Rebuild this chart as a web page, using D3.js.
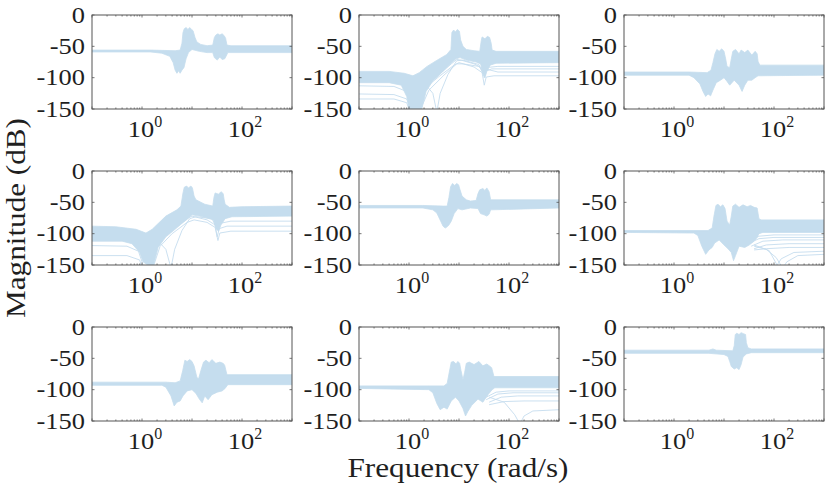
<!DOCTYPE html>
<html>
<head>
<meta charset="utf-8">
<script src="https://cdn.jsdelivr.net/npm/d3@7"></script>
<style>
  html, body { margin: 0; padding: 0; background: #fff; }
  svg { display: block; }
</style>
</head>
<body>
<script>
const WIDTH = 830;
const HEIGHT = 494;
const CURVE = '#c5ddee';
const AXIS = '#555555';
const TEXT = '#1f1f1f';
const FONT = '"Liberation Serif", "DejaVu Serif", serif';
const STRETCH = 1.15; // computer-modern glyphs are wider than Times

// axis values
const xDomain = [0.1, 1000];
const yDomain = [-150, 0];
const xMajorTicks = [0.1, 1, 10, 100, 1000];
const xLabelTicks = [1, 100];
const xLabelExp = ['0', '2'];
const yTicks = [0, -50, -100, -150];

// panel (row 1, col 1) -- [rad/s, dB]
const upper11 = [[0.1,-56],[1.5,-56],[4.6,-57],[5.8,-56],[6.3,-45],[6.6,-28],[7.0,-22],[7.6,-20],[8.3,-23],[9.0,-20],[9.8,-23],[10.5,-25],[11.5,-36],[12.5,-43],[15,-47],[20,-49],[26,-48],[28,-36],[30,-32],[33,-30],[36,-32],[40,-30],[44,-33],[47,-37],[50,-48],[60,-49],[1000,-49]];
const lower11 = [[0.1,-59],[1.5,-59],[2.5,-61],[3.6,-66],[4.2,-76],[4.6,-88],[5.0,-93],[5.4,-89],[5.8,-93],[6.3,-88],[6.9,-84],[7.6,-70],[8.5,-60],[10,-55],[14,-58],[20,-60],[26,-60],[28,-68],[32,-72],[36,-67],[40,-71],[45,-70],[48,-66],[52,-60],[1000,-60]];
const lines11 = [];

// panel (row 1, col 2)
const upper12 = [[0.1,-90],[0.4,-90],[0.8,-93],[1.2,-97],[1.6,-92],[2.3,-82],[3.5,-73],[5.7,-63],[6.9,-55],[7.2,-28],[7.8,-24],[8.5,-27],[9.3,-23],[10.2,-26],[10.8,-40],[12,-50],[14,-55],[20,-57],[26,-58],[28,-40],[29,-35],[33,-38],[37,-34],[41,-36],[44,-45],[46,-56],[55,-58],[1000,-58]];
const lower12 = [[0.1,-108],[0.4,-108],[0.7,-112],[0.9,-130],[1.0,-150],[1.8,-150],[2.2,-122],[3,-105],[4.5,-92],[6.3,-80],[8.7,-70],[10.5,-68],[14,-72],[22,-75],[27,-78],[30,-92],[33,-100],[36,-90],[42,-80],[55,-77],[1000,-76]];
const lines12 = [
  [[0.1,-113],[0.5,-114],[0.9,-122],[1.1,-140],[1.25,-155],[1.45,-140],[2,-115],[4,-95],[7,-78],[9,-71],[11,-72],[20,-78],[28,-84],[32,-100],[34,-90],[45,-86],[100,-86],[1000,-86]],
  [[0.1,-126],[0.5,-127],[0.9,-134],[1.15,-155],[1.4,-145],[2,-118],[4,-98],[8,-80],[10,-76],[20,-83],[29,-92],[32,-112],[35,-99],[50,-97],[1000,-97]],
  [[0.1,-134],[0.5,-134],[0.9,-140],[1.05,-155],[1.6,-155],[2.5,-120],[5,-96],[9,-78],[12,-78],[25,-82],[30,-90],[34,-84],[60,-82],[1000,-82]],
  [[0.1,-100],[1,-102],[2,-108],[3,-125],[3.6,-155],[4.2,-125],[6,-95],[9,-73],[12,-72],[25,-79],[30,-94],[34,-86],[60,-91],[1000,-91]]
];

// panel (row 1, col 3)
const upper13 = [[0.1,-91],[2,-91],[4.6,-92],[5.5,-88],[6.0,-76],[6.6,-62],[7.2,-55],[8,-58],[9,-54],[10,-58],[10.8,-70],[11.5,-82],[13,-84],[14,-70],[15,-58],[17,-55],[20,-62],[22,-56],[26,-60],[30,-56],[36,-64],[42,-58],[46,-62],[48,-74],[52,-80],[1000,-80]];
const lower13 = [[0.1,-96],[2,-96],[2.5,-100],[3.3,-110],[3.8,-122],[4.3,-130],[4.8,-126],[5.4,-129],[6,-120],[7,-108],[8.5,-104],[10,-100],[11.5,-106],[13,-112],[16,-104],[20,-112],[23,-122],[26,-112],[30,-104],[36,-104],[42,-100],[48,-97],[1000,-96]];
const lines13 = [];

// panel (row 2, col 1)
const upper21 = [[0.1,-88],[0.3,-89],[0.76,-93],[1.2,-99],[1.6,-93],[3,-72],[5,-62],[6,-56],[6.6,-35],[7,-26],[7.8,-24],[8.5,-27],[9.5,-24],[10.2,-27],[11,-40],[12,-46],[18,-53],[26,-56],[27.5,-42],[29,-35],[34,-37],[38,-33],[42,-36],[44,-46],[46,-53],[56,-58],[100,-57],[1000,-56]];
const lower21 = [[0.1,-112],[0.4,-112],[0.63,-116],[0.9,-130],[1.05,-145],[1.3,-150],[1.7,-150],[2.1,-122],[3,-105],[4,-97],[6,-85],[8,-77],[10,-70],[14,-72],[20,-75],[27,-78],[30,-92],[34,-96],[38,-86],[46,-76],[63,-73],[1000,-72]];
const lines21 = [
  [[0.1,-119],[0.5,-120],[0.85,-128],[1.05,-150],[1.2,-158],[1.5,-140],[2.2,-112],[4,-95],[8,-76],[10,-72],[20,-78],[29,-86],[32,-105],[35,-92],[50,-88],[1000,-88]],
  [[0.1,-135],[0.5,-135],[0.9,-142],[1.02,-158],[1.6,-158],[2.3,-120],[4,-100],[8,-82],[11,-78],[20,-82],[29,-90],[33,-111],[36,-99],[60,-96],[1000,-96]],
  [[0.1,-100],[1,-103],[2,-110],[3,-125],[3.8,-155],[4.5,-125],[6.3,-95],[9,-76],[12,-73],[25,-76],[30,-88],[34,-84],[60,-80],[1000,-80]]
];

// panel (row 2, col 2)
const upper22 = [[0.1,-55],[1.9,-55],[4.8,-56],[5.8,-56],[6.3,-42],[6.8,-25],[7.4,-20],[8.2,-23],[9,-20],[9.8,-22],[10.5,-30],[11.5,-40],[14,-46],[17,-48],[22,-47],[24,-36],[26,-30],[30,-28],[33,-31],[36,-27],[40,-33],[43,-46],[1000,-46]];
const lower22 = [[0.1,-59],[1.9,-59],[3,-62],[3.6,-67],[4.3,-80],[4.8,-88],[5.3,-91],[5.8,-89],[6.3,-86],[7,-80],[8,-68],[9.5,-60],[11.5,-62],[17,-59],[24,-60],[27,-68],[32,-70],[36,-72],[40,-69],[43,-62],[1000,-59]];
const lines22 = [];

// panel (row 2, col 3)
const upper23 = [[0.1,-95],[2.5,-95],[4.8,-95],[5.8,-91],[6.3,-72],[6.9,-55],[7.6,-53],[8.5,-57],[9.5,-54],[10.5,-60],[11.5,-80],[13,-86],[14,-72],[15,-56],[17,-53],[20,-58],[24,-54],[29,-57],[34,-55],[40,-58],[46,-59],[50,-76],[55,-78],[1000,-78]];
const lower23 = [[0.1,-98],[2.5,-99],[3,-103],[3.6,-120],[4.3,-133],[5,-126],[5.8,-122],[6.5,-115],[8,-110],[10,-118],[12,-124],[14,-130],[15.5,-143],[17,-135],[20,-120],[26,-122],[32,-118],[40,-112],[46,-106],[50,-100],[60,-98],[1000,-98]];
const lines23 = [
  [[30,-112],[50,-104],[100,-102],[1000,-102]],
  [[30,-116],[50,-108],[100,-106],[1000,-106]],
  [[35,-120],[60,-112],[150,-110],[1000,-110]],
  [[40,-124],[70,-118],[200,-116],[1000,-116]],
  [[40,-126],[70,-124],[200,-122],[1000,-122]],
  [[40,-120],[70,-125],[110,-138],[150,-155],[180,-145],[300,-135],[1000,-133]],
  [[40,-118],[80,-127],[115,-150],[140,-140],[250,-130],[1000,-128]]
];

// panel (row 3, col 1)
const upper31 = [[0.1,-88],[3,-88],[4.6,-89],[5.8,-86],[6.5,-70],[7.2,-53],[8,-55],[9,-52],[10,-55],[11,-62],[12.5,-80],[13.5,-83],[15,-70],[17,-56],[19,-53],[22,-57],[25,-52],[30,-58],[36,-56],[42,-58],[45,-61],[50,-76],[1000,-76]];
const lower31 = [[0.1,-93],[2.5,-93],[3,-96],[3.8,-110],[4.4,-126],[5,-120],[5.8,-118],[6.6,-110],[8,-102],[10,-100],[12,-106],[14,-115],[16,-121],[18,-110],[21,-116],[25,-108],[32,-104],[40,-102],[46,-98],[52,-92],[1000,-92]];
const lines31 = [];

// panel (row 3, col 2)
const upper32 = [[0.1,-94],[2.5,-94],[5,-94],[5.8,-90],[6.4,-72],[7,-56],[7.8,-55],[8.7,-59],[9.5,-55],[10.3,-58],[11,-70],[12,-84],[13,-72],[14,-58],[16,-56],[20,-60],[25,-55],[30,-62],[36,-59],[42,-63],[45,-65],[50,-79],[1000,-79]];
const lower32 = [[0.1,-98],[2.5,-100],[3,-105],[3.6,-122],[4.2,-132],[5,-128],[5.8,-131],[7,-118],[8.5,-112],[10,-118],[12,-130],[13.5,-142],[15,-135],[18,-125],[24,-115],[30,-120],[38,-108],[46,-100],[52,-97],[1000,-97]];
const lines32 = [
  [[35,-112],[55,-104],[100,-102],[1000,-102]],
  [[35,-116],[60,-107],[120,-105],[1000,-105]],
  [[40,-120],[70,-112],[150,-110],[1000,-110]],
  [[40,-124],[80,-119],[200,-118],[1000,-118]],
  [[40,-112],[80,-120],[130,-140],[165,-155],[200,-142],[300,-134],[1000,-132]]
];

// panel (row 3, col 3)
const upper33 = [[0.1,-37],[5,-37],[6,-35],[7,-37],[15,-38],[16,-30],[16.8,-12],[18,-10],[20,-12],[22,-9],[25,-11],[27,-12],[28,-25],[30,-33],[35,-35],[1000,-35]];
const lower33 = [[0.1,-42],[5,-42],[10,-44],[12,-47],[13,-55],[14,-63],[16,-67],[18,-65],[20,-68],[22,-60],[24,-48],[28,-43],[35,-41],[1000,-41]];
const lines33 = [];

const panels = [
  [upper11, lower11, lines11], [upper12, lower12, lines12], [upper13, lower13, lines13],
  [upper21, lower21, lines21], [upper22, lower22, lines22], [upper23, lower23, lines23],
  [upper31, lower31, lines31], [upper32, lower32, lines32], [upper33, lower33, lines33]
];

const colX = [92, 359, 624];
const rowY = [15, 171, 327];
const PW = 200;
const PH = 94;

const svg = d3.select('body').append('svg')
  .attr('width', WIDTH)
  .attr('height', HEIGHT)
  .attr('viewBox', `0 0 ${WIDTH} ${HEIGHT}`);

const x = d3.scaleLog().domain(xDomain).range([0, PW]);
const y = d3.scaleLinear().domain(yDomain).range([PH, 0]);
const line = d3.line().x(d => x(d[0])).y(d => y(d[1]));

function widen(sel, factor) {
  const w = sel.node().getComputedTextLength();
  sel.attr('textLength', w * factor).attr('lengthAdjust', 'spacingAndGlyphs');
  return sel;
}

const minorTicks = [];
for (let dec = 0.1; dec < 1000; dec *= 10) {
  for (let m = 2; m <= 9; m++) minorTicks.push(+(dec * m).toPrecision(3));
}

panels.forEach(([upper, lower, extra], i) => {
  const r = Math.floor(i / 3);
  const c = i % 3;
  const g = svg.append('g').attr('transform', `translate(${colX[c]},${rowY[r]})`);

  g.append('clipPath').attr('id', `clip${i}`)
    .append('rect').attr('width', PW).attr('height', PH);

  const plot = g.append('g').attr('clip-path', `url(#clip${i})`);

  extra.forEach(pts => {
    plot.append('path')
      .attr('d', line(pts))
      .attr('fill', 'none')
      .attr('stroke', CURVE)
      .attr('stroke-width', 0.9);
  });

  const poly = upper.concat(lower.slice().reverse());
  plot.append('path')
    .attr('d', line(poly) + 'Z')
    .attr('fill', CURVE)
    .attr('stroke', CURVE)
    .attr('stroke-width', 0.8)
    .attr('stroke-linejoin', 'round');

  // ticks inside, on all four sides
  const ticks = g.append('g').attr('stroke', AXIS).attr('stroke-width', 0.8);
  minorTicks.forEach(t => {
    ticks.append('line').attr('x1', x(t)).attr('x2', x(t)).attr('y1', PH).attr('y2', PH - 1.5);
    ticks.append('line').attr('x1', x(t)).attr('x2', x(t)).attr('y1', 0).attr('y2', 1.5);
  });
  xMajorTicks.forEach(t => {
    ticks.append('line').attr('x1', x(t)).attr('x2', x(t)).attr('y1', PH).attr('y2', PH - 2.5);
    ticks.append('line').attr('x1', x(t)).attr('x2', x(t)).attr('y1', 0).attr('y2', 2.5);
  });
  yTicks.forEach(t => {
    ticks.append('line').attr('x1', 0).attr('x2', 2.5).attr('y1', y(t)).attr('y2', y(t));
    ticks.append('line').attr('x1', PW).attr('x2', PW - 2.5).attr('y1', y(t)).attr('y2', y(t));
  });

  g.append('rect')
    .attr('width', PW).attr('height', PH)
    .attr('fill', 'none')
    .attr('stroke', AXIS)
    .attr('stroke-width', 1);

  yTicks.forEach(t => {
    const lab = g.append('text')
      .attr('x', -7)
      .attr('y', y(t) + 7.5)
      .attr('text-anchor', 'end')
      .attr('font-family', FONT)
      .attr('font-size', 23)
      .attr('fill', TEXT)
      .text(String(t));
    widen(lab, STRETCH);
  });

  xLabelTicks.forEach((t, k) => {
    const tx = g.append('text')
      .attr('x', x(t) + 3)
      .attr('y', PH + 28)
      .attr('text-anchor', 'middle')
      .attr('font-family', FONT)
      .attr('font-size', 23)
      .attr('fill', TEXT);
    const base = tx.append('tspan').text('10');
    tx.append('tspan').attr('dy', -10).attr('font-size', 16).text(xLabelExp[k]);
    widen(base, STRETCH);
  });
});

const yLab = svg.append('text')
  .attr('transform', 'translate(25,218) rotate(-90)')
  .attr('text-anchor', 'middle')
  .attr('font-family', FONT)
  .attr('font-size', 27)
  .attr('fill', TEXT)
  .text('Magnitude (dB)');
yLab.attr('textLength', 200).attr('lengthAdjust', 'spacingAndGlyphs');

const xLab = svg.append('text')
  .attr('x', 458)
  .attr('y', 477)
  .attr('text-anchor', 'middle')
  .attr('font-family', FONT)
  .attr('font-size', 27)
  .attr('fill', TEXT)
  .text('Frequency (rad/s)');
xLab.attr('textLength', 221).attr('lengthAdjust', 'spacingAndGlyphs');
</script>
</body>
</html>
